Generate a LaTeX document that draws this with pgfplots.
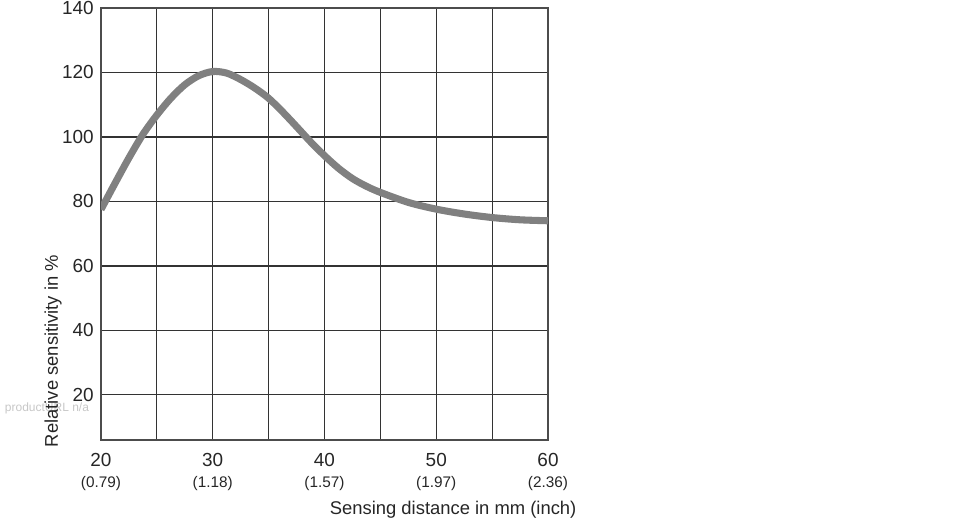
\documentclass[border=0pt]{standalone}
\usepackage{fontspec}
\setmainfont{Liberation Sans}
\usepackage{pgfplots}
\pgfplotsset{compat=1.18}
\newcommand\inch[1]{{\fontsize{11.5pt}{13pt}\selectfont(#1)}}
\begin{document}
\begin{tikzpicture}
\path[use as bounding box] (0,0) rectangle (727.5pt,390pt);
\node[anchor=west, text=black!22, font=\fontsize{9pt}{11pt}\selectfont, inner sep=0pt] at (3.5pt,84pt) {productURL n/a};
\begin{axis}[
  at={(75.75pt,60pt)}, anchor=south west,
  scale only axis, width=335.25pt, height=324pt,
  xmin=20, xmax=60, ymin=6, ymax=140,
  xtick={20,30,40,50,60},
  minor xtick={25,35,45,55},
  ytick={20,40,60,80,100,120,140},
  xticklabels={{20\\\inch{0.79}},{30\\\inch{1.18}},{40\\\inch{1.57}},{50\\\inch{1.97}},{60\\\inch{2.36}}},
  xticklabel style={align=center, yshift=-6.5pt},
  yticklabel style={xshift=-2pt},
  /pgf/number format/assume math mode=true,
  tick label style={font=\fontsize{14.2pt}{16pt}\selectfont, text=black!85},
  major tick length=0pt, minor tick length=0pt,
  grid=both,
  major grid style={black!80, line width=0.9pt},
  minor grid style={black!80, line width=0.9pt},
  axis line style={black!70, line width=0.9pt},
  xlabel={Sensing distance in mm (inch)},
  ylabel={Relative sensitivity in \%},
  label style={font=\fontsize{13.8pt}{15.5pt}\selectfont, text=black!85},
  xlabel style={at={(axis description cs:1.074,-0.162)}, anchor=east},
  ylabel style={at={(axis description cs:-0.107,0.206)}, anchor=center},
]
\addplot[smooth, color=black!50, line width=5.3pt] coordinates {
(20,77.5) (21.25,85.6) (22.5,93.5) (23.75,100.8) (25,106.8) (26.25,112)
(27.5,116.2) (28.75,119) (30,120.3) (31.25,119.8) (32.5,117.8) (33.75,115.2)
(35,112) (36.25,107.8) (37.5,103.2) (38.75,98.5) (40,94.2) (41.25,90.3)
(42.5,87.1) (43.75,84.7) (45,82.8) (47.5,79.7) (50,77.6) (52.5,76.1)
(55,75) (57.5,74.3) (60,74)
};
\end{axis}
\end{tikzpicture}
\end{document}
